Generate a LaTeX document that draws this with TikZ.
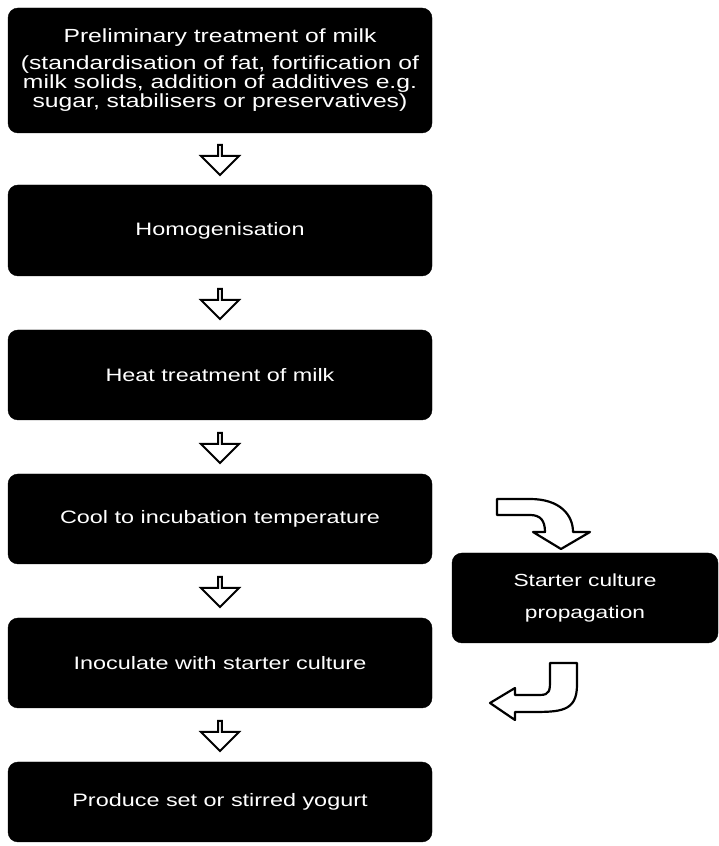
\documentclass[tikz,border=0pt]{standalone}
\usepackage{fontspec}
\setmainfont{Liberation Sans}[FakeStretch=1.3]
\usetikzlibrary{shapes.arrows, calc}

\newcommand{\stagefont}[1]{\fontsize{#1}{19}\selectfont}

\tikzset{
  stage/.style={fill=black, draw=black, rounded corners=10pt, text=white, align=center,
    minimum width=424pt, inner sep=0pt, font=\stagefont{18}},
  flowarrow/.style={single arrow, shape border rotate=270, draw=black, fill=white, line width=2pt,
    minimum height=30pt, minimum width=38pt, single arrow head extend=9pt, inner sep=0pt},
  bentarrow/.style={draw=black, fill=white, line width=2.2pt, line join=round}
}

\begin{document}
\begin{tikzpicture}[x=1pt,y=1pt]
\useasboundingbox (0,0) rectangle (718,846);
% main process steps
\node[stage, minimum height=125pt, font=\stagefont{19}] (prelim) at (220,775.5)
  {Preliminary treatment of milk\\[8pt](standardisation of fat, fortification of\\milk solids, addition of additives e.g.\\sugar, stabilisers or preservatives)};
\node[stage, minimum height=91pt] (homog) at (220,615.5) {Homogenisation};
\node[stage, minimum height=90pt] (heat) at (220,471) {Heat treatment of milk};
\node[stage, minimum height=90pt] (cool) at (220,327) {Cool to incubation temperature};
\node[stage, minimum height=90pt] (inoc) at (220,183) {Inoculate with starter culture};
\node[stage, minimum height=80pt] (yogurt) at (220,44) {Produce set or stirred yogurt};
% side step
\node[stage, minimum width=266pt, minimum height=90pt, font=\fontsize{17.5}{32}\selectfont] (starter) at (585,248)
  {Starter culture\\propagation};
% arrows between steps
\node[flowarrow] (a1) at ($(prelim.south)!0.5!(homog.north)$) {};
\node[flowarrow] (a2) at ($(homog.south)!0.5!(heat.north)$) {};
\node[flowarrow] (a3) at ($(heat.south)!0.5!(cool.north)$) {};
\node[flowarrow] (a4) at ($(cool.south)!0.5!(inoc.north)$) {};
\node[flowarrow] (a5) at ($(inoc.south)!0.5!(yogurt.north)$) {};
% bent arrows to and from the side step
\draw[bentarrow] (497,347) -- (530,347) .. controls (560,347) and (573,331) .. (573,314)
  -- (590,314) -- (561,297) -- (533,314) -- (545,314)
  .. controls (545,326) and (540,331) .. (530,331) -- (497,331) -- cycle;
\draw[bentarrow] (550,183) -- (577,183) -- (577,161) .. controls (577,134) and (560,134) .. (530,134)
  -- (515,134) -- (515,126) -- (490,143) -- (515,158) -- (515,151) -- (540,151)
  .. controls (550,151) and (550,156) .. (550,166) -- cycle;
\end{tikzpicture}
\end{document}
